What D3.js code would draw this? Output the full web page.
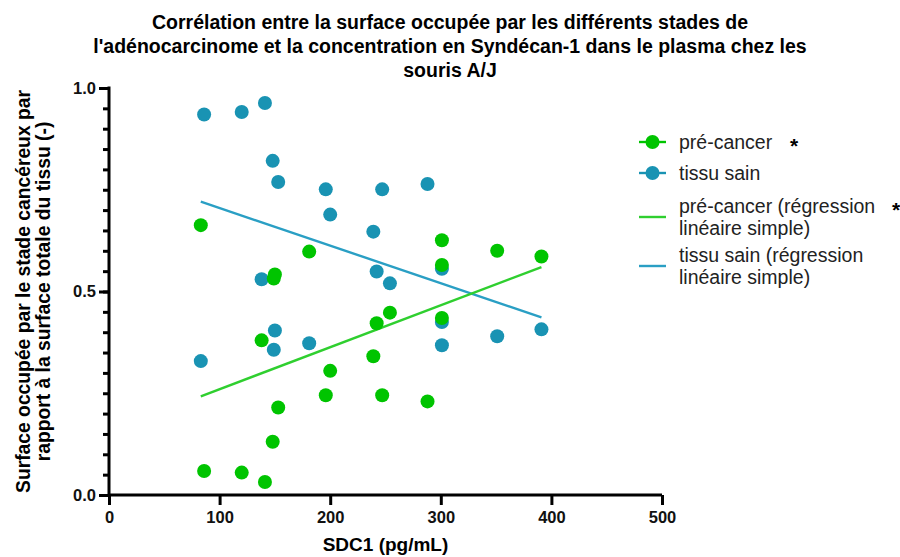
<!DOCTYPE html>
<html>
<head>
<meta charset="utf-8">
<script src="https://cdn.jsdelivr.net/npm/d3@7"></script>
<style>
  body { margin: 0; background: #fff; }
  svg { font-family: "Liberation Sans", Arial, sans-serif; }
</style>
</head>
<body>
<svg id="chart" width="900" height="557"></svg>
<script>
// SDC1 (pg/mL) per mouse, and surface fraction per stage
const sdc1      = [83, 86, 120, 138, 141, 148, 149, 150, 153, 181, 196, 200, 239, 242, 247, 254, 288, 301, 301, 301, 351, 391];
const tissuSain = [0.329, 0.935, 0.941, 0.530, 0.963, 0.821, 0.357, 0.404, 0.769, 0.373, 0.751, 0.689, 0.647, 0.549, 0.751, 0.520, 0.764, 0.556, 0.425, 0.368, 0.390, 0.407];
const preCancer = [0.663, 0.059, 0.055, 0.380, 0.032, 0.131, 0.532, 0.542, 0.215, 0.598, 0.245, 0.305, 0.341, 0.422, 0.245, 0.448, 0.230, 0.565, 0.435, 0.626, 0.600, 0.586];

const xTicks = [0, 100, 200, 300, 400, 500];
const yTicks = [0, 0.5, 1.0];

const titleLines = [
  "Corrélation entre la surface occupée par les différents stades de",
  "l'adénocarcinome et la concentration en Syndécan-1 dans le plasma chez les",
  "souris A/J"
];
const yLabelLines = [
  "Surface occupée par le stade cancéreux par",
  "rapport à la surface totale du tissu (-)"
];

const green = "#00c400", blue = "#1993b3";
const greenLine = "#2fcf2f", blueLine = "#2a9fc4";

const svg = d3.select("#chart");
const margin = {top: 88, left: 109, right: 238, bottom: 62};
const width = 900 - margin.left - margin.right;
const height = 557 - margin.top - margin.bottom;

const x = d3.scaleLinear().domain([0, 500]).range([0, width]);
const y = d3.scaleLinear().domain([0, 1]).range([height, 0]);

const g = svg.append("g").attr("transform", "translate(" + margin.left + "," + margin.top + ")");

// title
svg.append("g").selectAll("text")
  .data(titleLines).enter().append("text")
  .attr("x", 450).attr("y", (d, i) => 29 + i * 24)
  .attr("text-anchor", "middle")
  .style("font-weight", "bold").style("font-size", "19.5px")
  .text(d => d);

// axes
const xAxis = g.append("g")
  .attr("transform", "translate(0," + height + ")")
  .call(d3.axisBottom(x).tickValues(xTicks).tickFormat(d3.format("d")).tickSize(10).tickPadding(6));
const yMinor = g.append("g")
  .call(d3.axisLeft(y).tickValues(d3.range(0, 1.001, 0.05)).tickSize(6).tickFormat(""));
const yMajor = g.append("g")
  .call(d3.axisLeft(y).tickValues(yTicks).tickFormat(d3.format(".1f")).tickSize(10).tickPadding(3));
yMajor.select(".domain").remove();

xAxis.select(".domain").attr("d", "M0,0H" + width);
yMinor.select(".domain").attr("d", "M0," + (height + 1.5) + "V-1.5");

[xAxis, yMinor, yMajor].forEach(a => {
  a.selectAll(".domain, .tick line").style("stroke", "#000").style("stroke-width", "3px");
  a.selectAll(".tick text").style("fill", "#111").style("font-weight", "bold").style("font-size", "16.5px");
});

// axis labels
svg.append("text")
  .attr("x", margin.left + x(250)).attr("y", 551)
  .attr("text-anchor", "middle")
  .style("font-weight", "bold").style("font-size", "19px")
  .text("SDC1 (pg/mL)");
svg.append("g").attr("transform", "translate(0," + (margin.top + height / 2) + ") rotate(-90)")
  .selectAll("text").data(yLabelLines).enter().append("text")
  .attr("x", 0).attr("y", (d, i) => 30 + i * 20)
  .attr("text-anchor", "middle")
  .style("font-weight", "bold").style("font-size", "19.3px")
  .text(d => d);

// simple linear regression
function fit(xs, ys) {
  const mx = d3.mean(xs), my = d3.mean(ys);
  let sxy = 0, sxx = 0;
  xs.forEach((v, i) => { sxy += (v - mx) * (ys[i] - my); sxx += (v - mx) * (v - mx); });
  const b = sxy / sxx, a = my - b * mx;
  const x0 = d3.min(xs), x1 = d3.max(xs);
  return [[x0, a + b * x0], [x1, a + b * x1]];
}
const line = d3.line().x(d => x(d[0])).y(d => y(d[1]));

g.append("path").datum(fit(sdc1, tissuSain))
  .attr("d", line).attr("fill", "none").attr("stroke", blueLine).attr("stroke-width", 2.4);
g.append("path").datum(fit(sdc1, preCancer))
  .attr("d", line).attr("fill", "none").attr("stroke", greenLine).attr("stroke-width", 2.4);

// points
g.append("g").selectAll("circle")
  .data(sdc1.map((v, i) => [v, tissuSain[i]])).enter().append("circle")
  .attr("cx", d => x(d[0])).attr("cy", d => y(d[1])).attr("r", 7).attr("fill", blue);
g.append("g").selectAll("circle")
  .data(sdc1.map((v, i) => [v, preCancer[i]])).enter().append("circle")
  .attr("cx", d => x(d[0])).attr("cy", d => y(d[1])).attr("r", 7).attr("fill", green);

// legend
const legend = svg.append("g").style("font-size", "19.5px");
const items = [
  {lines: ["pré-cancer"], star: 790, y: 142, color: green, dot: true},
  {lines: ["tissu sain"], y: 173, color: blue, dot: true},
  {lines: ["pré-cancer (régression", "linéaire simple)"], star: 892, y: 206, color: greenLine, dot: false},
  {lines: ["tissu sain (régression", "linéaire simple)"], y: 255, color: blueLine, dot: false}
];
items.forEach(it => {
  const my = it.y + (it.lines.length - 1) * 11;
  legend.append("line").attr("x1", 639).attr("x2", 666).attr("y1", my).attr("y2", my)
    .attr("stroke", it.color).attr("stroke-width", 2.4);
  if (it.dot) legend.append("circle").attr("cx", 652.5).attr("cy", my).attr("r", 7).attr("fill", it.color);
  it.lines.forEach((t, j) => {
    legend.append("text").attr("x", 679).attr("y", it.y + j * 22 + 7).attr("fill", "#222").text(t);
  });
  if (it.star) legend.append("text").attr("x", it.star).attr("y", it.y + 11)
    .style("font-weight", "bold").style("font-size", "21px").text("*");
});
</script>
</body>
</html>
